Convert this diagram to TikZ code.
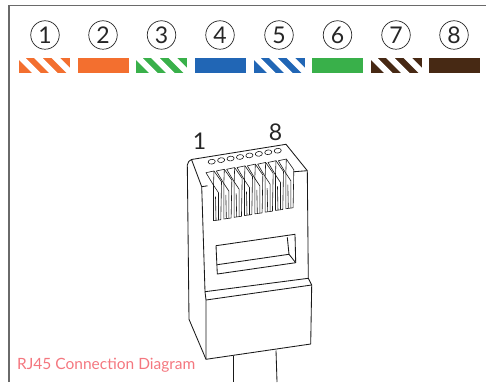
\documentclass[tikz,border=0pt]{standalone}
\usepackage{fontspec}
\setmainfont{Lato}
\usepackage{xcolor}
\usepackage{tikz}
\definecolor{wireorange}{HTML}{F36F2F}
\definecolor{wiregreen}{HTML}{39B04A}
\definecolor{wireblue}{HTML}{2166B5}
\definecolor{wirebrown}{HTML}{472914}
\definecolor{framegray}{HTML}{6A6A6A}
\definecolor{captionred}{HTML}{F4777F}
\tikzset{
  numcircle/.style={draw=black!85,circle,line width=0.7pt,minimum size=28.5pt,inner sep=0pt,
    font=\fontsize{23}{23}\selectfont,text=black!85},
  plugline/.style={line width=0.85pt,black!90,line join=round},
  pinline/.style={line width=0.6pt,black!90,line join=round},
}
\newcommand{\solidwire}[2]{\fill[#2] (#1,58) rectangle ({#1+51},73);}
\newcommand{\stripedwire}[2]{%
  \begin{scope}
    \clip (#1,58) rectangle ({#1+51},73);
    \fill[#2] (#1,58) rectangle ({#1+51},73);
    \foreach \s in {-2,15,32.5}
      {\fill[white] ({#1+\s},58) -- ({#1+\s+8.7},58) -- ({#1+\s+23.7},73) -- ({#1+\s+15},73) -- cycle;}
  \end{scope}%
}
\newcommand{\plugslot}[2]{%
  \begin{scope}[shift={(#1,#2)}]
    \filldraw[pinline,fill=white] (0,0) -- (8,-1.7) -- (15.5,9) -- (14.8,47) -- (7.5,48) -- (7.5,12.5) -- cycle;
    \draw[pinline] (8,-1.7) -- (7.5,12.5);
    \draw[pinline] (7.5,12.5) -- (12.5,20) -- (12.5,47.3);
    \draw[pinline] (9.5,24) -- (10,47.6);
  \end{scope}%
}
\begin{document}
\begin{tikzpicture}[x=1pt,y=-1pt]
  \useasboundingbox (0,0) rectangle (486,382);
  \draw[framegray,line width=1.1pt] (9,382) -- (9,5.5) -- (486,5.5);
  % colour order
  \foreach \n/\cx in {1/45,2/103,3/161.5,4/220,5/279,6/337.5,7/396,8/454}
    {\node[numcircle] (num\n) at (\cx,35) {\n};}
  \stripedwire{19}{wireorange}
  \solidwire{78}{wireorange}
  \stripedwire{136}{wiregreen}
  \solidwire{195}{wireblue}
  \stripedwire{254}{wireblue}
  \solidwire{312}{wiregreen}
  \stripedwire{371}{wirebrown}
  \solidwire{429}{wirebrown}
  % plug body
  \draw[plugline] (233.3,356) -- (233.3,382);
  \draw[plugline] (276,350.5) -- (277,382);
  \draw[plugline] (201.7,186.7) -- (191.5,159.5) to[out=190,in=70] (187.3,165) -- (189,319.3) -- (206,359.3)
    -- (310.7,344) -- (311.7,285) -- (308.3,278.3) -- (307.3,170.7) -- (286,144.3) -- (191.5,159.5);
  \draw[plugline] (201.7,186.7) -- (207.5,185.8);
  \draw[plugline] (201.7,186.7) -- (205,291.7) -- (206,300) -- (206,359.3);
  \draw[plugline] (205,291.7) -- (308.3,278.3);
  \draw[plugline] (206,300) -- (311.7,285);
  \draw[plugline] (293,171.8) -- (307.3,170.7);
  % latch window
  \draw[plugline] (216,245.7) -- (295,234.3) -- (295.7,262.7) -- (217.3,274) -- cycle;
  \draw[plugline] (217.3,264.7) -- (289,254.3) -- (295.7,262.7);
  \draw[plugline] (287.3,237.3) -- (289,254.3);
  % pin holes and contacts
  \foreach \i in {0,...,7}
    {\draw[pinline] ({211.7+\i*9.43},{161.7-\i*1.57}) ellipse[x radius=3.6,y radius=2.4,rotate=8];}
  \foreach \i in {0,...,7}
    {\plugslot{{206+\i*10.33}}{{172.7-\i*1.71}}}
  \node[font=\fontsize{23}{23}\selectfont,text=black!85] (pinfirst) at (199.5,141) {1};
  \node[font=\fontsize{23}{23}\selectfont,text=black!85] (pinlast) at (275.5,132.5) {8};
  \node[anchor=west,inner sep=0pt,font=\fontsize{15.5}{15.5}\selectfont,text=captionred] (caption) at (17,365) {RJ45 Connection Diagram};
\end{tikzpicture}
\end{document}
